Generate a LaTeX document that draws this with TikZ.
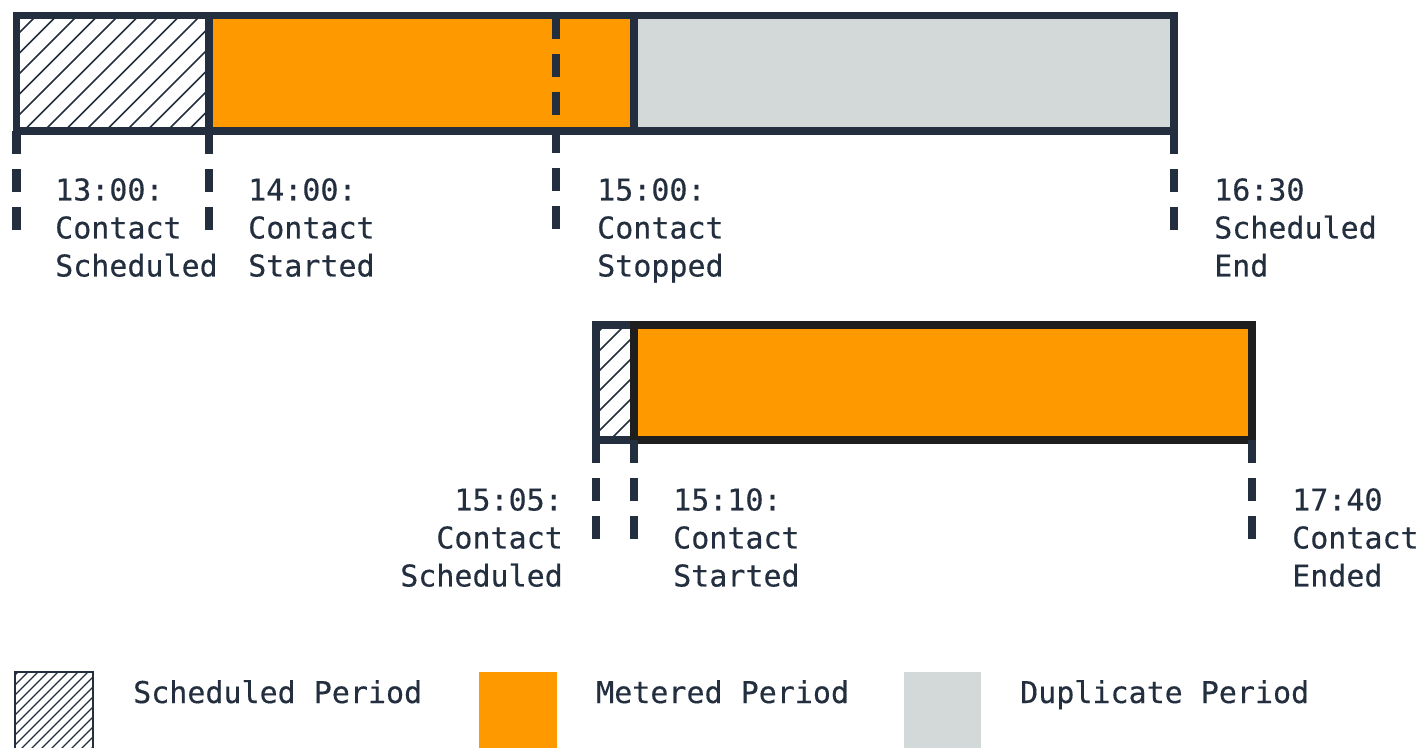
\documentclass[tikz,border=0pt]{standalone}
\usepackage{fontspec}
\newfontfamily\lblfont{DejaVu Sans Mono}[FakeBold=0.35]
\definecolor{navy}{HTML}{232F3E}
\definecolor{awsorange}{HTML}{FF9900}
\definecolor{dupgrey}{HTML}{D3D9D9}
\definecolor{darkline}{HTML}{1E1E1E}
\tikzset{
  lbl/.style={inner sep=0pt, text=navy, font=\lblfont\fontsize{30}{38}\selectfont},
  tickline/.style={draw=navy, line width=8.5pt, dash pattern=on 23pt off 15pt},
  barline/.style={draw=navy, line width=7.5pt},
  hatchline/.style={draw=navy, line width=1.7pt},
}
\begin{document}
\begin{tikzpicture}[x=1pt,y=-1pt]
\useasboundingbox (0,0) rectangle (1419,747);
\clip (0,0) rectangle (1419,747);

% ---------- top bar ----------
\coordinate (tA) at (16.5,15.5);
\coordinate (tD) at (1174,131);
\fill[awsorange] (209,15.5) rectangle (634,131);
\fill[dupgrey] (634,15.5) rectangle (1174,131);
\begin{scope}
  \clip (16.5,15.5) rectangle (209,131);
  \foreach \i in {-120,-99.5,...,230} \draw[hatchline] (\i,131) -- ++(116,-116);
\end{scope}
\draw[barline] (tA) rectangle (tD);
\draw[barline] (209,15.5) -- (209,131);
\draw[barline] (634,15.5) -- (634,131);

% ticks top
\coordinate (k1a) at (16.5,131); \coordinate (k1b) at (16.5,231);
\coordinate (k2a) at (209,131);  \coordinate (k2b) at (209,231);
\coordinate (k3a) at (556,15.5); \coordinate (k3b) at (556,231);
\coordinate (k4a) at (1174,131); \coordinate (k4b) at (1174,231);
\draw[tickline] (k1a) -- (k1b);
\draw[tickline] (k2a) -- (k2b);
\draw[tickline] (k3a) -- (k3b);
\draw[tickline] (k4a) -- (k4b);

% labels top
\node[lbl, anchor=north west, align=left] (l1) at (55,178) {13:00:\\Contact\\Scheduled};
\node[lbl, anchor=north west, align=left] (l2) at (248,178) {14:00:\\Contact\\Started};
\node[lbl, anchor=north west, align=left] (l3) at (597,178) {15:00:\\Contact\\Stopped};
\node[lbl, anchor=north west, align=left] (l4) at (1214,178) {16:30\\Scheduled\\End};

% ---------- bottom bar ----------
\fill[awsorange] (634,325) rectangle (1252,440);
\begin{scope}
  \clip (596,325) rectangle (634,440);
  \foreach \i in {450,470,...,660} \draw[hatchline] (\i,440) -- ++(115,-115);
\end{scope}
\draw[barline] (596,325) rectangle (634,440);
\draw[barline, draw=darkline] (634,325) rectangle (1252,440);

% ticks bottom
\coordinate (m1a) at (596,440); \coordinate (m1b) at (596,540);
\coordinate (m2a) at (634,440); \coordinate (m2b) at (634,540);
\coordinate (m3a) at (1252,440); \coordinate (m3b) at (1252,540);
\draw[tickline] (m1a) -- (m1b);
\draw[tickline] (m2a) -- (m2b);
\draw[tickline] (m3a) -- (m3b);

% labels bottom
\node[lbl, anchor=north east, align=right] (l5) at (563,488) {15:05:\\Contact\\Scheduled};
\node[lbl, anchor=north west, align=left] (l6) at (673,488) {15:10:\\Contact\\Started};
\node[lbl, anchor=north west, align=left] (l7) at (1292,488) {17:40\\Contact\\Ended};

% ---------- legend ----------
\begin{scope}
  \clip (15,672) rectangle (93,760);
  \foreach \i in {-80,-70,...,100} \draw[navy, line width=1.3pt] (\i,760) -- ++(88,-88);
\end{scope}
\draw[navy, line width=1.5pt] (15,760) -- (15,672) -- (93,672) -- (93,760);
\fill[awsorange] (479,672) rectangle (557,760);
\fill[dupgrey] (904,672) rectangle (981,760);
\node[lbl, anchor=base west] (g1) at (133,703) {Scheduled Period};
\node[lbl, anchor=base west] (g2) at (596,703) {Metered Period};
\node[lbl, anchor=base west] (g3) at (1020,703) {Duplicate Period};
\end{tikzpicture}
\end{document}
